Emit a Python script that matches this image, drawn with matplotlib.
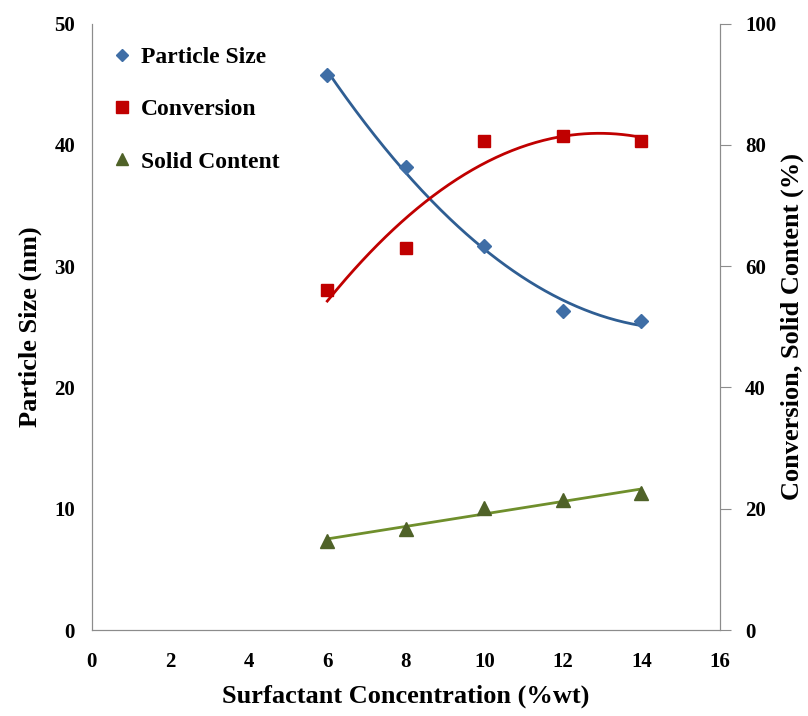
import numpy as np
import matplotlib.pyplot as plt
from matplotlib.lines import Line2D

# ==========================
# 数据
# ==========================

surfactant = [6, 8, 10, 12, 14]
particle_size = [45.8, 38.2, 31.7, 26.3, 25.5]
conversion = [56.1, 63.0, 80.6, 81.5, 80.6]
solid_content = [14.7, 16.7, 20.2, 21.5, 22.6]

blue = "#3F6EA6"
blue_line = "#2F5E93"
red = "#C00000"
green = "#4F6228"
green_line = "#6F8F2C"
spine_gray = "#8C8C8C"

plt.rcParams["font.family"] = ["Liberation Serif", "DejaVu Serif"]
plt.rcParams["font.weight"] = "bold"

fig = plt.figure(figsize=(8.08, 7.16), dpi=100)
ax = fig.add_axes([0.1135, 0.1201, 0.7775, 0.8469])
ax2 = ax.twinx()

# ==========================
# 趋势线
# ==========================

xs = np.linspace(min(surfactant), max(surfactant), 200)
fit_ps = np.polyfit(surfactant, particle_size, 2)
fit_cv = np.polyfit(surfactant, conversion, 2)
fit_sc = np.polyfit(surfactant, solid_content, 1)

ax.plot(xs, np.polyval(fit_ps, xs), color=blue_line, linewidth=2, zorder=2)
ax2.plot(xs, np.polyval(fit_cv, xs), color=red, linewidth=2, zorder=2)
ax2.plot(xs, np.polyval(fit_sc, xs), color=green_line, linewidth=2, zorder=2)

# ==========================
# 数据点
# ==========================

ax.plot(surfactant, particle_size, linestyle="none", marker="D",
        markersize=7, color=blue, zorder=3)
ax2.plot(surfactant, conversion, linestyle="none", marker="s",
         markersize=9, color=red, zorder=3)
ax2.plot(surfactant, solid_content, linestyle="none", marker="^",
         markersize=10, color=green, zorder=3)

# ==========================
# 坐标轴
# ==========================

ax.set_xlim(0, 16)
ax.set_ylim(0, 50)
ax2.set_ylim(0, 100)
ax.set_xticks(range(0, 17, 2))
ax.set_yticks(range(0, 51, 10))
ax2.set_yticks(range(0, 101, 20))

for a in (ax, ax2):
    for side in a.spines:
        a.spines[side].set_color(spine_gray)
    a.spines["top"].set_visible(False)

ax.tick_params(axis="x", length=0, pad=16, labelsize=15)
ax.tick_params(axis="y", length=0, pad=12, labelsize=15)
ax2.tick_params(axis="y", length=8, color=spine_gray, pad=10, labelsize=15)

ax.set_xlabel("Surfactant Concentration (%wt)", fontsize=19,
              fontweight="bold", labelpad=9)
ax.set_ylabel("Particle Size (nm)", fontsize=19, fontweight="bold",
              labelpad=9)
ax2.set_ylabel("Conversion, Solid Content (%)", fontsize=19,
               fontweight="bold", labelpad=3)

# ==========================
# 图例
# ==========================

handles = [
    Line2D([], [], linestyle="none", marker="D", markersize=6, color=blue),
    Line2D([], [], linestyle="none", marker="s", markersize=8, color=red),
    Line2D([], [], linestyle="none", marker="^", markersize=8, color=green),
]
ax.legend(handles, ["Particle Size", "Conversion", "Solid Content"],
          loc="upper left", bbox_to_anchor=(-0.005, 0.997), frameon=False,
          prop={"size": 17, "weight": "bold"}, labelspacing=1.3,
          handlelength=1.0, handletextpad=0.3)

plt.savefig("out.png", dpi=100)
